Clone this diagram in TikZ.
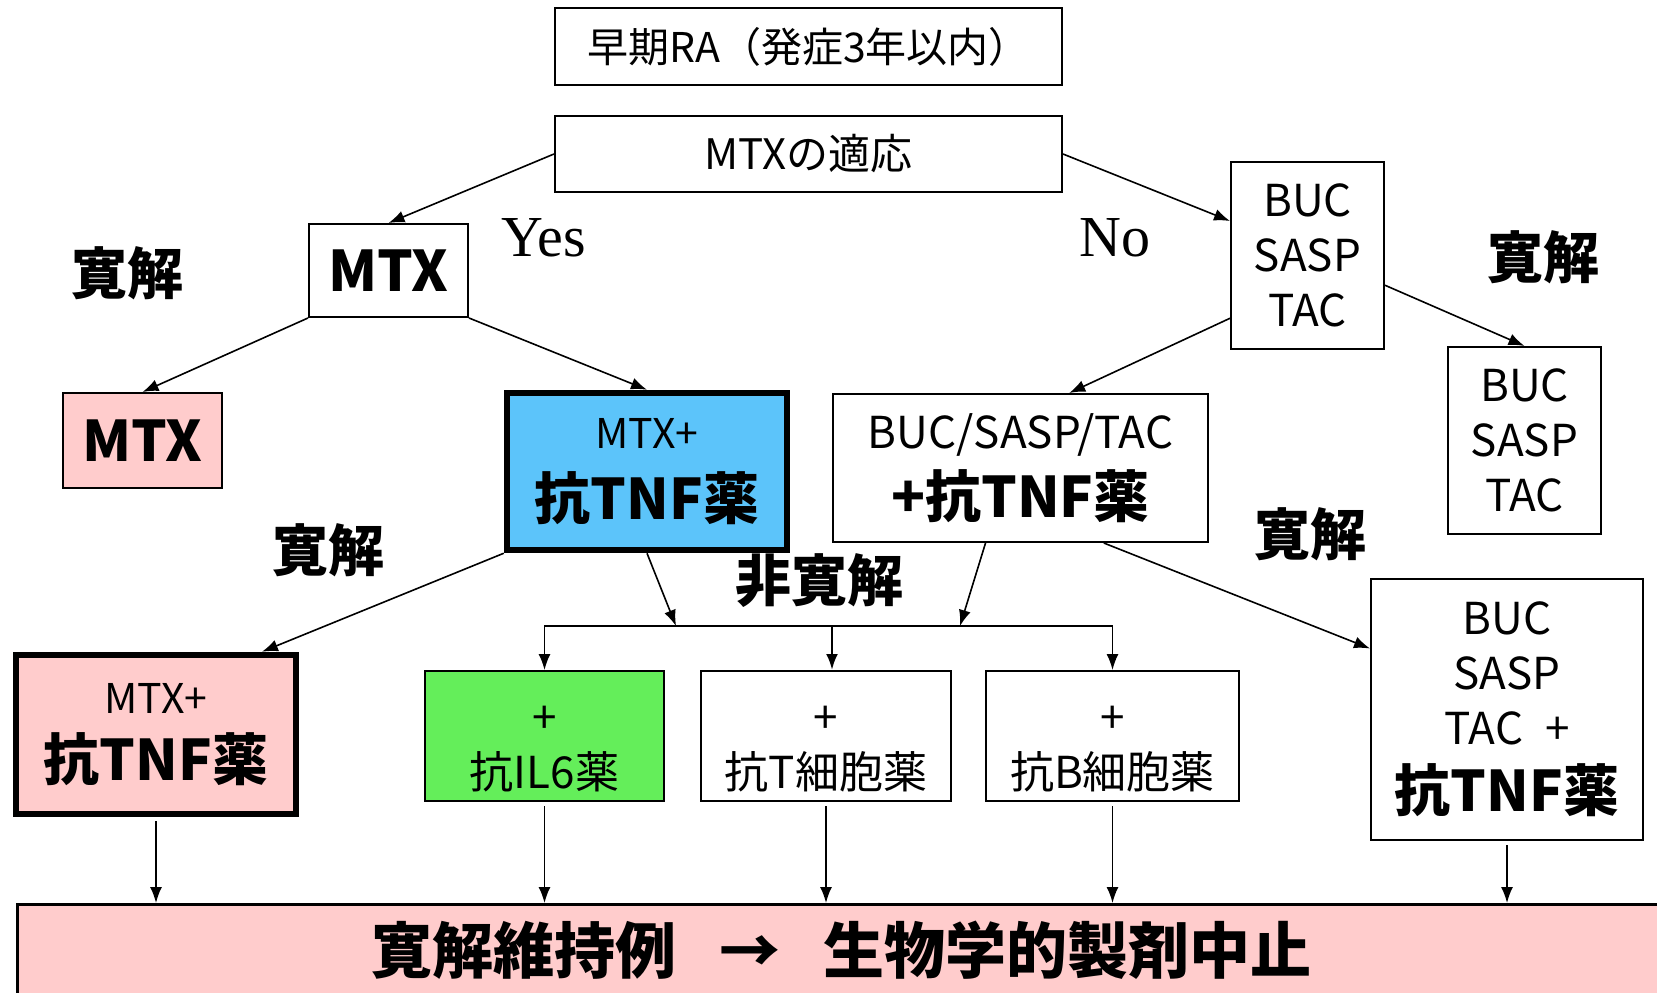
\documentclass[tikz,border=0pt]{standalone}
\usepackage{fontspec}
\setmainfont{Noto Sans CJK JP}
\newfontfamily\yesnofont{Liberation Serif}
\usetikzlibrary{arrows.meta}

\definecolor{remitpink}{RGB}{255,204,204}
\definecolor{tnfblue}{RGB}{92,196,250}
\definecolor{ilgreen}{RGB}{100,238,90}

\newcommand{\labelfs}{\fontsize{41}{48}\selectfont}
\newcommand{\drugfs}{\fontsize{44}{55}\selectfont}
\newcommand{\boldfs}{\bfseries\fontsize{56}{66}\selectfont}
\newcommand{\lowstrut}{\rule{0pt}{53pt}}

\begin{document}
\begin{tikzpicture}[x=1pt, y=-1pt, >={Latex[length=16pt,width=12pt]}, line width=1.6pt,
    box/.style={draw, line width=2pt, align=center, inner sep=0pt},
    heavy/.style={box, line width=6.5pt},
    remark/.style={font=\boldfs},
    answer/.style={font=\yesnofont\fontsize{58}{60}\selectfont}]
    \useasboundingbox (0,0) rectangle (1657,993);

    %define the boxes
    \node[box, minimum width=507pt, minimum height=77pt, font=\labelfs] (onset) at (808.5,46.5) {早期RA（発症3年以内）};
    \node[box, minimum width=507pt, minimum height=76pt, font=\fontsize{42}{48}\selectfont] (indic) at (808.5,154) {MTXの適応};
    \node[box, minimum width=159pt, minimum height=93pt, font=\boldfs] (mtx) at (388.5,270.5) {MTX};
    \node[box, minimum width=153pt, minimum height=187pt, font=\drugfs] (buc) at (1307.5,255.5) {BUC\\SASP\\TAC};
    \node[box, fill=remitpink, minimum width=159pt, minimum height=95pt, font=\boldfs] (mtxkeep) at (142.5,440.5) {MTX};
    \node[heavy, fill=tnfblue, minimum width=280pt, minimum height=157pt] (mtxtnf) at (647,471.5) {{\labelfs MTX+}\\[22pt]{\boldfs 抗TNF薬}};
    \node[box, minimum width=375pt, minimum height=148pt] (buctnf) at (1020.5,468) {{\drugfs BUC/SASP/TAC}\\[12pt]{\boldfs +抗TNF薬}};
    \node[box, minimum width=153pt, minimum height=187pt, font=\drugfs] (buckeep) at (1524.5,440.5) {BUC\\SASP\\TAC};
    \node[heavy, fill=remitpink, minimum width=280pt, minimum height=159pt] (mtxtnfkeep) at (156,734.5) {{\labelfs MTX+}\\[18pt]{\boldfs 抗TNF薬}};
    \node[box, fill=ilgreen, minimum width=239pt, minimum height=130pt, font=\drugfs] (il6) at (544.5,736) {\lowstrut+\\抗IL6薬};
    \node[box, minimum width=250pt, minimum height=130pt, font=\drugfs] (tcell) at (826,736) {\lowstrut+\\抗T細胞薬};
    \node[box, minimum width=253pt, minimum height=130pt, font=\drugfs] (bcell) at (1112.5,736) {\lowstrut+\\抗B細胞薬};
    \node[box, minimum width=272pt, minimum height=261pt, font=\drugfs] (buctnfr) at (1507,709.5) {BUC\\SASP\\TAC\enspace+\\[12pt]{\boldfs 抗TNF薬}};
    \node[draw, line width=3pt, fill=remitpink, minimum width=1648pt, minimum height=92pt, anchor=north west,
          font=\bfseries\fontsize{61}{64}\selectfont] (stop) at (16,903) {寛解維持例\hspace{0.7em}→\hspace{0.7em}生物学的製剤中止};

    %define the labels
    \node[remark] (remitA) at (127,273) {寛解};
    \node[answer] (yes) at (544,238) {Yes};
    \node[answer] (no) at (1115,238) {No};
    \node[remark] (remitB) at (1543,257) {寛解};
    \node[remark] (remitC) at (328,550) {寛解};
    \node[remark] (nonremit) at (819,581) {非寛解};
    \node[remark] (remitD) at (1310,534) {寛解};

    %define the links
    \draw[->] (indic.west) -- (mtx.north);
    \draw[->] (indic.east) -- (buc.156);
    \draw[->] (mtx.south west) -- (mtxkeep.north);
    \draw[->] (mtx.south east) -- (mtxtnf.north);
    \draw[->] (buc.219) -- (buctnf.57);
    \draw[->] (buc.-21) -- (buckeep.north);
    \draw[->] (mtxtnf.south west) -- (mtxtnfkeep.38);
    \draw[->] (buctnf.-42) -- (buctnfr.156);

    \coordinate (split) at (832,626);
    \coordinate (fromL) at (676,626);
    \coordinate (fromR) at (960,626);
    \draw[->] (mtxtnf.south) -- (fromL);
    \draw[->] (buctnf.245) -- (fromR);
    \draw[->] (split) -| (il6.north);
    \draw[->] (split) -| (bcell.north);
    \draw[->, line width=2.6pt] (split) -- (split |- tcell.north);

    \foreach \n in {mtxtnfkeep, il6, tcell, bcell, buctnfr}
      \draw[->, shorten <=4pt] (\n.south) -- (\n.south |- stop.north);
\end{tikzpicture}
\end{document}
